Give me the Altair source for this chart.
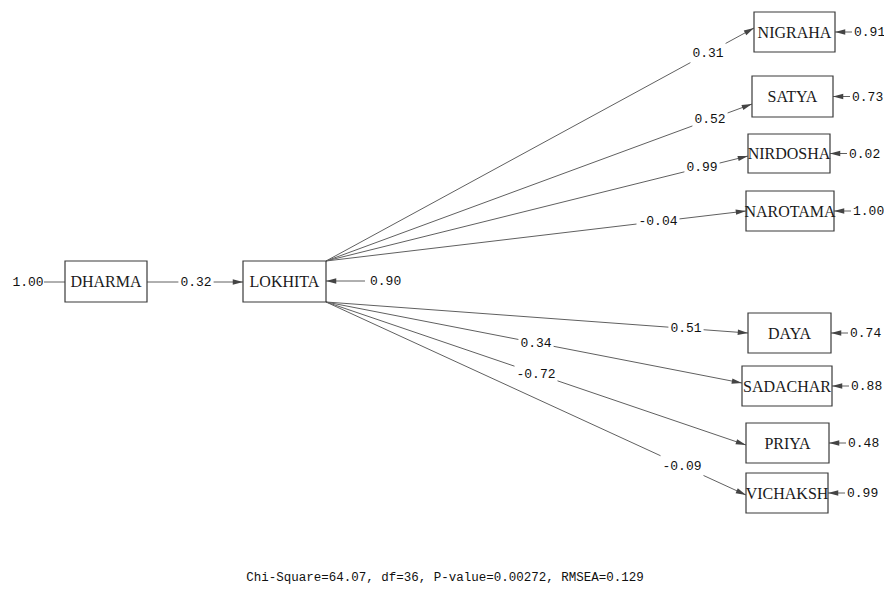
import math
import pandas as pd
import altair as alt

# ---------------- data ----------------
indicators = ["NIGRAHA", "SATYA", "NIRDOSHA", "NAROTAMA", "DAYA", "SADACHAR", "PRIYA", "VICHAKSH"]
loadings = ["0.31", "0.52", "0.99", "-0.04", "0.51", "0.34", "-0.72", "-0.09"]
error_vars = ["0.91", "0.73", "0.02", "1.00", "0.74", "0.88", "0.48", "0.99"]

# layout of indicator boxes (picture pixels)
box_left = [754, 752, 748, 746, 748, 742, 746, 746]
box_right = [835, 833, 830, 834, 831, 832, 829, 828]
box_top = [12, 76, 134, 191, 313, 366, 423, 473]
box_bottom = [52, 117, 173, 231, 353, 406, 463, 513]
tip_y = [28, 104, 156, 211, 333, 383, 445, 495]
label_x = [708, 710, 702, 658, 686, 536, 536, 682]
from_corner = ["top", "top", "top", "top", "bottom", "bottom", "bottom", "bottom"]

latent = ["DHARMA", "LOKHITA"]
latent_left = [65, 243]
latent_right = [147, 326]
latent_top = [261, 261]
latent_bottom = [302, 302]
dharma_var = "1.00"
path_coef = "0.32"
lokhita_err = "0.90"

footer = "Chi-Square=64.07, df=36, P-value=0.00272, RMSEA=0.129"

# ---------------- geometry ----------------
FS = 13
CW = 0.6 * FS
MONO = "Liberation Mono"
SERIF = "Liberation Serif"


def hw(txt):
    return len(txt) * CW / 2 + 2


segs, arrows, rects, node_txt, coef_txt, err_txt = [], [], [], [], [], []

# latent boxes
for name, l, r, t, b in zip(latent, latent_left, latent_right, latent_top, latent_bottom):
    rects.append(dict(x=l, x2=r, y=t, y2=b))
    node_txt.append(dict(x=(l + r) / 2, y=(t + b) / 2 + 0.5, text=name))

ym = 282
# DHARMA variance
coef_txt.append(dict(x=28, y=ym, text=dharma_var))
segs.append(dict(x=44, y=ym, x2=latent_left[0], y2=ym))
# DHARMA -> LOKHITA
lx = 196
segs.append(dict(x=latent_right[0], y=ym, x2=lx - hw(path_coef), y2=ym))
segs.append(dict(x=lx + hw(path_coef), y=ym, x2=latent_left[1], y2=ym))
arrows.append(dict(x=latent_left[1], y=ym, angle=0))
coef_txt.append(dict(x=lx, y=ym, text=path_coef))
# LOKHITA error
segs.append(dict(x=365, y=281, x2=latent_right[1], y2=281))
arrows.append(dict(x=latent_right[1], y=281, angle=180))
err_txt.append(dict(x=370, y=281, text=lokhita_err))

# indicators
for i, name in enumerate(indicators):
    l, r, t, b = box_left[i], box_right[i], box_top[i], box_bottom[i]
    rects.append(dict(x=l, x2=r, y=t, y2=b))
    node_txt.append(dict(x=(l + r) / 2, y=(t + b) / 2 + 0.5, text=name))
    sx = latent_right[1]
    sy = latent_top[1] if from_corner[i] == "top" else latent_bottom[1]
    ex, ey = l, tip_y[i]

    def yat(xx):
        return sy + (ey - sy) * (xx - sx) / (ex - sx)

    lxx = label_x[i]
    h = hw(loadings[i])
    segs.append(dict(x=sx, y=sy, x2=lxx - h, y2=yat(lxx - h)))
    segs.append(dict(x=lxx + h, y=yat(lxx + h), x2=ex, y2=ey))
    ang = math.degrees(math.atan2(ey - sy, ex - sx)) % 360
    arrows.append(dict(x=ex, y=ey, angle=ang))
    coef_txt.append(dict(x=lxx, y=yat(lxx), text=loadings[i]))
    # error term
    mid = (t + b) / 2
    segs.append(dict(x=r + 17, y=mid, x2=r, y2=mid))
    arrows.append(dict(x=r, y=mid, angle=180))
    err_txt.append(dict(x=r + 19, y=mid, text=error_vars[i]))

foot_df = pd.DataFrame([dict(x=445, y=577, text=footer)])

# ---------------- chart ----------------
xs = alt.Scale(domain=[8, 884], nice=False, zero=False)
ys = alt.Scale(domain=[8, 600], nice=False, zero=False, reverse=True)
X = alt.X("x:Q", scale=xs, axis=None)
Y = alt.Y("y:Q", scale=ys, axis=None)

seg_layer = alt.Chart(pd.DataFrame(segs)).mark_rule(color="#606060", strokeWidth=1).encode(
    x=X, y=Y, x2="x2:Q", y2="y2:Q"
)
rect_layer = alt.Chart(pd.DataFrame(rects)).mark_rect(
    fill="white", stroke="#3a3a3a", strokeWidth=1.2
).encode(x=X, y=Y, x2="x2:Q", y2="y2:Q")
arrow_layer = alt.Chart(pd.DataFrame(arrows)).mark_point(
    shape="M 0 0 L -1 -0.26 L -1 0.26 Z", filled=True, color="#444444", size=420, opacity=1
).encode(x=X, y=Y, angle=alt.Angle("angle:Q", scale=None))
node_layer = alt.Chart(pd.DataFrame(node_txt)).mark_text(
    font=SERIF, fontSize=16, color="#1a1a1a", align="center", baseline="middle"
).encode(x=X, y=Y, text="text:N")
coef_layer = alt.Chart(pd.DataFrame(coef_txt)).mark_text(
    font=MONO, fontSize=FS, color="#111111", align="center", baseline="middle"
).encode(x=X, y=Y, text="text:N")
err_layer = alt.Chart(pd.DataFrame(err_txt)).mark_text(
    font=MONO, fontSize=FS, color="#111111", align="left", baseline="middle"
).encode(x=X, y=Y, text="text:N")
foot_layer = alt.Chart(foot_df).mark_text(
    font=MONO, fontSize=12.5, color="#111111", align="center", baseline="middle"
).encode(x=X, y=Y, text="text:N")

chart = (
    alt.layer(seg_layer, rect_layer, arrow_layer, node_layer, coef_layer, err_layer, foot_layer)
    .properties(width=876, height=592, padding=0, autosize=alt.AutoSizeParams(type="none"),
                background="white")
    .configure_view(strokeWidth=0)
)

chart.save("out.html", embed_options={"renderer": "svg", "actions": False})
